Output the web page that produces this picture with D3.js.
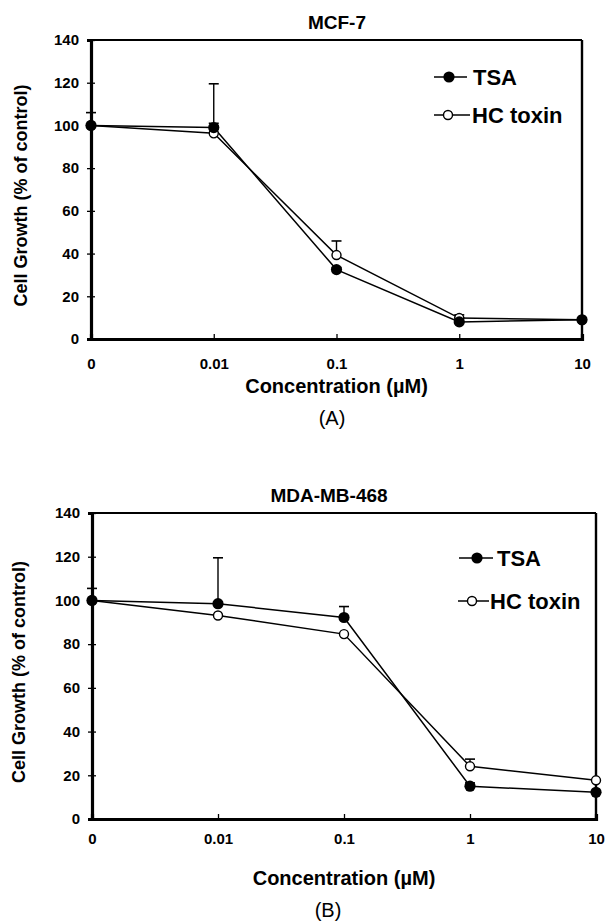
<!DOCTYPE html>
<html>
<head>
<meta charset="utf-8">
<script src="https://cdn.jsdelivr.net/npm/d3@7"></script>
<style>
  html, body { margin: 0; padding: 0; background: #fff; }
  svg { display: block; }
  text { font-family: "Liberation Sans", Arial, sans-serif; fill: #000; }
</style>
</head>
<body>
<div id="chart"></div>
<script>
// Cell growth vs concentration — two panels (A) MCF-7, (B) MDA-MB-468

const concLabels = ['0', '0.01', '0.1', '1', '10'];
const yTicks = [0, 20, 40, 60, 80, 100, 120, 140];
const seriesNames = ['TSA', 'HC toxin'];

// panel A — MCF-7
const mcfTSA = [100, 99, 32.5, 8, 9];
const mcfTSAErr = [6, 2, 1, 2, 0];
const mcfHC = [100, 96.3, 39.3, 9.8, 9];
const mcfHCErr = [0, 23.2, 6.6, 1.5, 0];

// panel B — MDA-MB-468
const mdaTSA = [100, 98.5, 92.2, 15, 12.2];
const mdaTSAErr = [5.5, 21, 5, 1.5, 0];
const mdaHC = [100, 93.1, 84.6, 24.1, 17.7];
const mdaHCErr = [0, 0, 0, 3.3, 0];

const W = 606, H = 922;

const svg = d3.select('#chart')
  .append('svg')
  .attr('width', W)
  .attr('height', H);

function drawPanel(cfg) {
  const { box, title, letter, tsa, tsaErr, hc, hcErr } = cfg;
  const g = svg.append('g');

  const x = d3.scalePoint()
    .domain(concLabels)
    .range([box.left, box.right]);

  const y = d3.scaleLinear()
    .domain([0, 140])
    .range([box.bottom, box.top]);

  // frame: thin top/right, heavy left/bottom
  g.append('line')
    .attr('x1', box.left).attr('x2', box.right)
    .attr('y1', box.top).attr('y2', box.top)
    .attr('stroke', '#000').attr('stroke-width', 2.2);
  g.append('line')
    .attr('x1', box.right).attr('x2', box.right)
    .attr('y1', box.top).attr('y2', box.bottom)
    .attr('stroke', '#000').attr('stroke-width', 2.4);

  // axes
  const yAxis = g.append('g')
    .attr('transform', `translate(${box.left},0)`)
    .call(d3.axisLeft(y).tickValues(yTicks).tickSize(4).tickPadding(8));
  yAxis.select('.domain').attr('stroke-width', 3.2);
  yAxis.selectAll('.tick line').attr('x1', -4).attr('x2', 4).attr('stroke-width', 1.3);
  yAxis.selectAll('text')
    .attr('font-size', '15px')
    .attr('font-weight', 'bold')
    .attr('font-family', 'Liberation Sans, Arial, sans-serif');

  const xAxis = g.append('g')
    .attr('transform', `translate(0,${box.bottom})`)
    .call(d3.axisBottom(x).tickSize(-5).tickPadding(cfg.xPad));
  xAxis.select('.domain').attr('stroke-width', 3.2);
  xAxis.selectAll('.tick line').attr('stroke-width', 1.3);
  xAxis.selectAll('text')
    .attr('font-size', '15px')
    .attr('font-weight', 'bold')
    .attr('font-family', 'Liberation Sans, Arial, sans-serif');

  // titles
  g.append('text')
    .attr('x', cfg.titleX)
    .attr('y', box.top - 11)
    .attr('text-anchor', 'middle')
    .attr('font-size', '19px')
    .attr('font-weight', 'bold')
    .text(title);

  g.append('text')
    .attr('transform', `translate(${cfg.yTitleX},${(box.top + box.bottom) / 2 + 6}) rotate(-90)`)
    .attr('text-anchor', 'middle')
    .attr('font-size', '18px')
    .attr('font-weight', 'bold')
    .text('Cell Growth (% of control)');

  g.append('text')
    .attr('x', (box.left + box.right) / 2)
    .attr('y', cfg.xTitleY)
    .attr('text-anchor', 'middle')
    .attr('font-size', '20px')
    .attr('font-weight', 'bold')
    .text('Concentration (\u00b5M)');

  g.append('text')
    .attr('x', cfg.letterX)
    .attr('y', cfg.xTitleY + 32)
    .attr('text-anchor', 'middle')
    .attr('font-size', '20px')
    .text(letter);

  // error bars (upper only)
  const errs = [
    { vals: tsa, err: tsaErr },
    { vals: hc, err: hcErr },
  ];
  for (const s of errs) {
    s.vals.forEach((v, i) => {
      if (!s.err[i]) return;
      const cx = x(concLabels[i]);
      g.append('line')
        .attr('x1', cx).attr('x2', cx)
        .attr('y1', y(v)).attr('y2', y(v + s.err[i]))
        .attr('stroke', '#000').attr('stroke-width', 1.4);
      g.append('line')
        .attr('x1', cx - 5).attr('x2', cx + 5)
        .attr('y1', y(v + s.err[i])).attr('y2', y(v + s.err[i]))
        .attr('stroke', '#000').attr('stroke-width', 1.6);
    });
  }

  const line = d3.line()
    .x((d, i) => x(concLabels[i]))
    .y(d => y(d));

  g.append('path').datum(hc)
    .attr('fill', 'none').attr('stroke', '#000').attr('stroke-width', 1.5)
    .attr('d', line);
  g.append('path').datum(tsa)
    .attr('fill', 'none').attr('stroke', '#000').attr('stroke-width', 1.5)
    .attr('d', line);

  g.selectAll('.hc-pt')
    .data(hc)
    .enter()
    .append('circle')
    .attr('cx', (d, i) => x(concLabels[i]))
    .attr('cy', d => y(d))
    .attr('r', 4.5)
    .attr('fill', '#fff')
    .attr('stroke', '#000')
    .attr('stroke-width', 1.4);

  g.selectAll('.tsa-pt')
    .data(tsa)
    .enter()
    .append('circle')
    .attr('cx', (d, i) => x(concLabels[i]))
    .attr('cy', d => y(d))
    .attr('r', 5.6)
    .attr('fill', '#000');

  // legend
  cfg.legend.forEach((it, k) => {
    g.append('line')
      .attr('x1', it.x1).attr('x2', it.x2)
      .attr('y1', it.y).attr('y2', it.y)
      .attr('stroke', '#000').attr('stroke-width', 1.5);
    g.append('circle')
      .attr('cx', it.mx).attr('cy', it.y)
      .attr('r', k === 0 ? 5.6 : 4.5)
      .attr('fill', k === 0 ? '#000' : '#fff')
      .attr('stroke', '#000')
      .attr('stroke-width', k === 0 ? 0 : 1.4);
    g.append('text')
      .attr('x', it.tx)
      .attr('y', it.y + 8)
      .attr('font-size', '22px')
      .attr('font-weight', 'bold')
      .text(seriesNames[k]);
  });
}

drawPanel({
  box: { left: 91, right: 582, top: 40, bottom: 339 },
  title: 'MCF-7', letter: '(A)',
  titleX: 337, yTitleX: 27, xTitleY: 393, letterX: 332, xPad: 19,
  tsa: mcfTSA, tsaErr: mcfTSAErr, hc: mcfHC, hcErr: mcfHCErr,
  legend: [
    { x1: 434, x2: 467, mx: 449, tx: 473, y: 77 },
    { x1: 434, x2: 470, mx: 448, tx: 472, y: 115 },
  ],
});

drawPanel({
  box: { left: 92, right: 596, top: 513, bottom: 819 },
  title: 'MDA-MB-468', letter: '(B)',
  titleX: 329, yTitleX: 25, xTitleY: 885, letterX: 328, xPad: 14,
  tsa: mdaTSA, tsaErr: mdaTSAErr, hc: mdaHC, hcErr: mdaHCErr,
  legend: [
    { x1: 459, x2: 493, mx: 477, tx: 497, y: 558 },
    { x1: 458, x2: 489, mx: 472, tx: 490, y: 601 },
  ],
});
</script>
</body>
</html>
